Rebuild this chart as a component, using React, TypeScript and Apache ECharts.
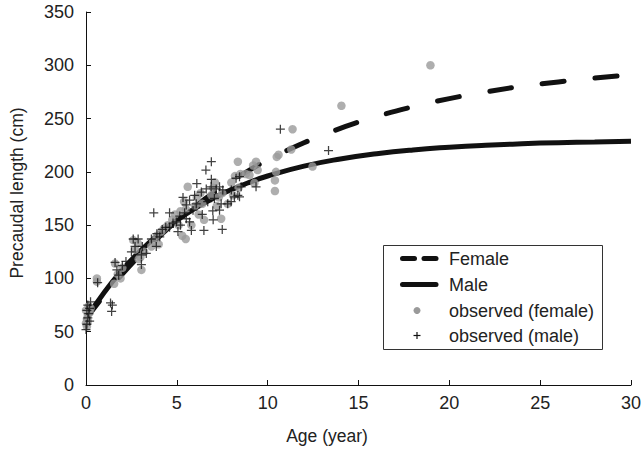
import React, { useEffect, useRef } from "react";
import * as echarts from "echarts";

// Fitted growth curves (age in years, precaudal length in cm)
const curveAges = [0, 1, 2, 3, 4, 5, 6, 7, 8, 9, 10, 12, 14, 16, 18, 20, 22, 24, 26, 28, 30];
const femaleCurve = [62, 84.1, 104.1, 122.3, 138.8, 153.9, 167.5, 180, 191.4, 201.7, 211, 227.3, 240.8, 251.9, 261.1, 268.7, 275, 280.2, 284.4, 288, 291];
const maleCurve = [62, 86.8, 108, 126, 141.4, 154.5, 165.7, 175.2, 183.3, 190.2, 196.1, 205.4, 212.1, 217, 220.6, 223.1, 225, 226.4, 227.4, 228.1, 228.8];

// Observed specimens: [age, length]
const observedFemale: [number, number][] = [
  [0.0, 58], [0.05, 62], [0.1, 66], [0.0, 70], [0.15, 74], [0.1, 60], [0.2, 68], [0.05, 55], [0.25, 72],
  [0.6, 100], [0.6, 97],
  [1.55, 95], [1.6, 114], [1.75, 104], [2.0, 110], [1.9, 100],
  [2.6, 136], [2.7, 127], [2.85, 133], [3.05, 108], [3.0, 120], [3.2, 125], [2.9, 118],
  [3.7, 135], [3.9, 140], [4.15, 144], [4.3, 147], [4.5, 150], [3.6, 130], [4.0, 132],
  [4.75, 155], [4.9, 160], [5.1, 150], [5.2, 163], [5.3, 140], [5.49, 137], [5.5, 165], [5.6, 186], [5.4, 172],
  [5.8, 150], [6.0, 168], [6.1, 176], [6.3, 180], [6.5, 155], [6.4, 170], [6.2, 160],
  [6.9, 178], [7.0, 185], [7.2, 168], [7.44, 156], [7.3, 176], [7.5, 180], [7.1, 190],
  [7.8, 170], [8.0, 190], [8.2, 196], [8.36, 209.5], [8.4, 185], [8.5, 198], [8.1, 178],
  [8.8, 198], [9.0, 197], [9.27, 189.5], [9.36, 209.5], [9.45, 201.7], [9.2, 206],
  [10.4, 182], [10.4, 192], [10.46, 200], [10.5, 214], [10.6, 216],
  [11.3, 221], [11.37, 240], [12.47, 205], [14.06, 262], [18.96, 300],
];

const observedMale: [number, number][] = [
  [0.0, 52], [0.05, 57], [0.1, 63], [0.15, 67], [0.2, 72], [0.25, 78], [0.1, 75], [0.05, 70], [0.2, 60],
  [0.64, 96], [1.35, 77], [1.41, 69], [1.45, 75],
  [1.6, 115], [1.7, 108], [2.0, 112], [1.8, 103], [2.2, 116],
  [2.6, 137], [2.87, 137], [3.05, 122], [3.05, 113], [3.32, 123.5], [2.7, 130], [3.1, 130], [2.5, 125],
  [3.6, 137], [3.73, 161.6], [3.87, 130], [4.06, 139], [4.39, 148], [4.6, 148], [4.6, 161.6], [4.79, 152], [4.97, 153], [3.9, 142], [4.2, 146],
  [5.06, 144], [5.16, 158.5], [5.43, 161.6], [5.52, 156], [5.7, 153], [5.89, 164], [5.52, 169], [5.34, 176], [5.7, 173.5], [6.07, 170], [5.98, 178], [6.1, 189], [5.2, 150], [5.8, 145],
  [6.35, 181], [6.49, 145], [6.62, 184], [6.6, 201.7], [6.9, 209.5], [6.9, 193], [6.89, 186], [7.17, 184], [7.35, 186], [7.53, 183], [7.07, 175], [7.44, 170], [7.35, 164], [6.98, 163.5], [7.5, 146], [6.4, 160], [6.7, 172], [7.0, 155],
  [7.8, 170], [7.99, 172], [8.17, 176.6], [8.36, 178], [8.26, 194], [8.45, 195.5], [8.45, 176.6], [8.54, 186], [9.36, 186], [8.0, 183],
  [10.7, 240], [13.35, 220],
];

const xTicks = { min: 0, max: 30, interval: 5 };
const yTicks = { min: 0, max: 350, interval: 50 };

const seriesNames = ["Female", "Male", "observed (female)", "observed (male)"];

const FONT = '"Liberation Sans", Arial, sans-serif';
const INK = "#111";
const TEXT = "#222";
const DOT = "#9a9a9a";
const CROSS = "path://M4.3,0H5.7V4.3H10V5.7H5.7V10H4.3V5.7H0V4.3H4.3Z";

export default function App() {
  const ref = useRef<HTMLDivElement>(null);

  useEffect(() => {
    if (!ref.current) return;
    const chart = echarts.init(ref.current, undefined, { renderer: "svg" });

    const lx = 383.5;
    const ly = 245.5;
    const rowY = [258.5, 284.5, 310.5, 335.5];
    const textX = 449;
    const legendGraphics: any[] = [
      {
        type: "rect",
        shape: { x: lx, y: ly, width: 219, height: 104 },
        style: { fill: "#fff", stroke: "#333", lineWidth: 1 },
        z: 10,
      },
      {
        type: "line",
        shape: { x1: 402.5, y1: rowY[0], x2: 414.5, y2: rowY[0] },
        style: { stroke: INK, lineWidth: 5, lineCap: "round" },
        z: 11,
      },
      {
        type: "line",
        shape: { x1: 424, y1: rowY[0], x2: 436, y2: rowY[0] },
        style: { stroke: INK, lineWidth: 5, lineCap: "round" },
        z: 11,
      },
      {
        type: "line",
        shape: { x1: 402.5, y1: rowY[1], x2: 436, y2: rowY[1] },
        style: { stroke: INK, lineWidth: 5, lineCap: "round" },
        z: 11,
      },
      {
        type: "circle",
        shape: { cx: 417, cy: rowY[2], r: 3.5 },
        style: { fill: DOT },
        z: 11,
      },
      {
        type: "line",
        shape: { x1: 413.5, y1: rowY[3], x2: 420.5, y2: rowY[3] },
        style: { stroke: INK, lineWidth: 1.2 },
        z: 11,
      },
      {
        type: "line",
        shape: { x1: 417, y1: rowY[3] - 3.5, x2: 417, y2: rowY[3] + 3.5 },
        style: { stroke: INK, lineWidth: 1.2 },
        z: 11,
      },
      ...seriesNames.map((name, i) => ({
        type: "text",
        x: textX,
        y: rowY[i],
        style: { text: name, font: `18px ${FONT}`, fill: TEXT, align: "left", verticalAlign: "middle" },
        z: 11,
      })),
      {
        type: "text",
        x: 327,
        y: 436,
        style: { text: "Age (year)", font: `17.5px ${FONT}`, fill: TEXT, align: "center", verticalAlign: "middle" },
      },
      {
        type: "text",
        x: 17,
        y: 193,
        rotation: Math.PI / 2,
        style: { text: "Precaudal length (cm)", font: `17.5px ${FONT}`, fill: TEXT, align: "center", verticalAlign: "middle" },
      },
    ];

    const axisCommon = {
      axisLine: { show: true, onZero: false, lineStyle: { color: INK, width: 1 } },
      axisTick: { show: true, inside: true, length: 5, lineStyle: { color: INK, width: 1 } },
      splitLine: { show: false },
    };
    const labelStyle = { fontFamily: FONT, fontSize: 18, color: TEXT };

    chart.setOption({
      animation: false,
      backgroundColor: "#fff",
      grid: { left: 86, right: 11, top: 12, bottom: 65, containLabel: false },
      xAxis: { type: "value", ...xTicks, ...axisCommon, axisLabel: { ...labelStyle, margin: 9 } },
      yAxis: { type: "value", ...yTicks, ...axisCommon, axisLabel: { ...labelStyle, margin: 12 } },
      graphic: legendGraphics,
      series: [
        {
          name: seriesNames[0],
          type: "line",
          data: curveAges.map((a, i) => [a, femaleCurve[i]]),
          smooth: true,
          showSymbol: false,
          lineStyle: { color: INK, width: 5, type: [22, 31], cap: "round" },
          z: 2,
        },
        {
          name: seriesNames[1],
          type: "line",
          data: curveAges.map((a, i) => [a, maleCurve[i]]),
          smooth: true,
          showSymbol: false,
          lineStyle: { color: INK, width: 5 },
          z: 2,
        },
        {
          name: seriesNames[2],
          type: "scatter",
          data: observedFemale,
          symbol: "circle",
          symbolSize: 8.5,
          itemStyle: { color: DOT },
          z: 3,
        },
        {
          name: seriesNames[3],
          type: "scatter",
          data: observedMale,
          symbol: CROSS,
          symbolSize: 9,
          itemStyle: { color: INK },
          z: 4,
        },
      ],
    });

    return () => chart.dispose();
  }, []);

  return (
    <div
      ref={ref}
      style={{ position: "fixed", left: 0, top: 0, width: 644, height: 450 }}
    />
  );
}
